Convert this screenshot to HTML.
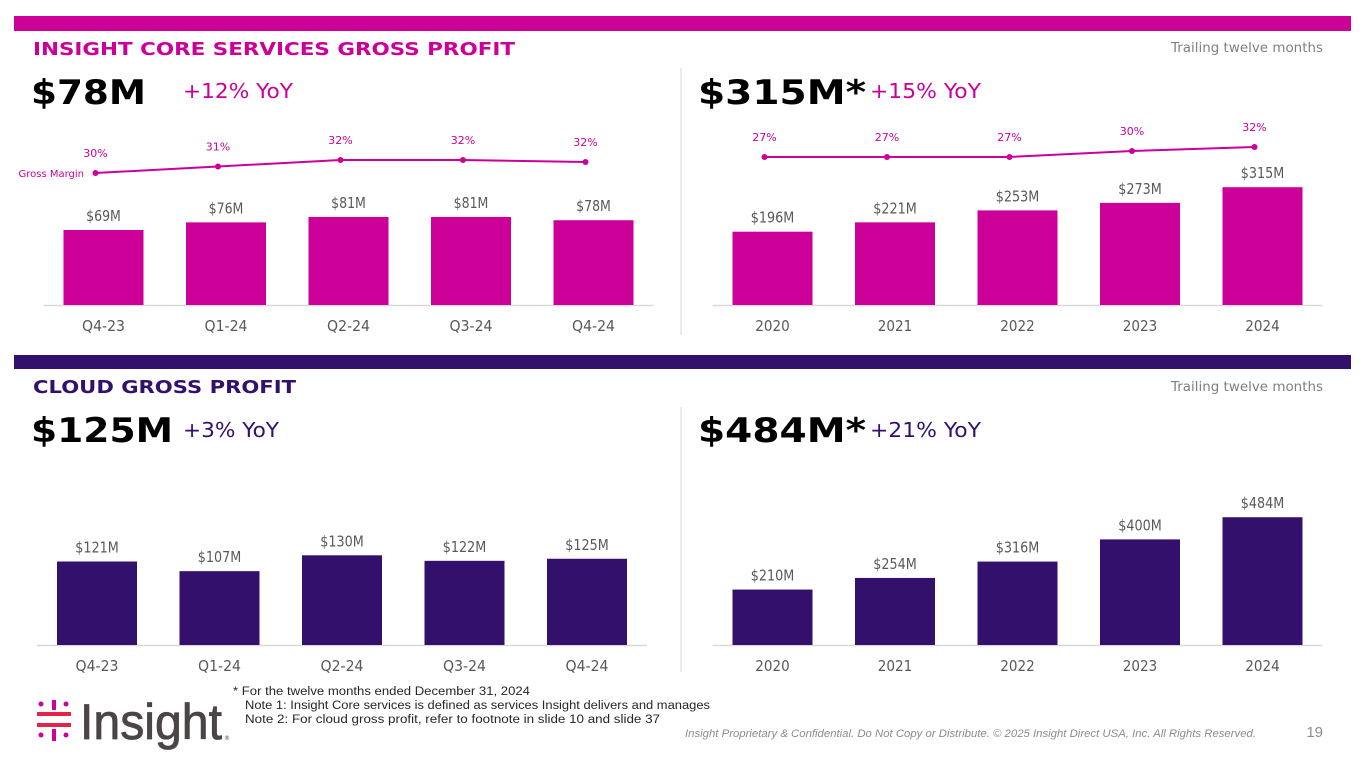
<!DOCTYPE html>
<html><head><meta charset="utf-8"><style>
html,body{margin:0;padding:0;background:#fff;}
svg{display:block;font-family:"DejaVu Sans","Liberation Sans",sans-serif;}
</style></head><body>
<svg id="s" width="1365" height="768" viewBox="0 0 1365 768" xmlns="http://www.w3.org/2000/svg">
<rect x="14" y="16" width="1337" height="15" fill="#cc0099"/>
<rect x="14" y="355" width="1337" height="14" fill="#33106b"/>
<line x1="681" y1="68" x2="681" y2="335" stroke="#d9d9d9"/>
<line x1="681" y1="407" x2="681" y2="672" stroke="#d9d9d9"/>
<text x="33" y="55" font-size="18" font-weight="bold" fill="#cc0099" textLength="482" lengthAdjust="spacingAndGlyphs">INSIGHT CORE SERVICES GROSS PROFIT</text>
<text x="1323" y="52" font-size="13" fill="#7f7f7f" text-anchor="end" textLength="152" lengthAdjust="spacingAndGlyphs">Trailing twelve months</text>
<text x="31" y="104" font-size="34" font-weight="bold" fill="#000" textLength="115" lengthAdjust="spacingAndGlyphs">$78M</text>
<text x="183" y="98" font-size="20" fill="#cc0099" textLength="110" lengthAdjust="spacingAndGlyphs">+12% YoY</text>
<text x="698" y="104" font-size="34" font-weight="bold" fill="#000" textLength="168" lengthAdjust="spacingAndGlyphs">$315M*</text>
<text x="870" y="98" font-size="20" fill="#cc0099" textLength="111" lengthAdjust="spacingAndGlyphs">+15% YoY</text>
<text x="33" y="393" font-size="18" font-weight="bold" fill="#33106b" textLength="263" lengthAdjust="spacingAndGlyphs">CLOUD GROSS PROFIT</text>
<text x="1323" y="391" font-size="13" fill="#7f7f7f" text-anchor="end" textLength="152" lengthAdjust="spacingAndGlyphs">Trailing twelve months</text>
<text x="31" y="442" font-size="34" font-weight="bold" fill="#000" textLength="142" lengthAdjust="spacingAndGlyphs">$125M</text>
<text x="183" y="437" font-size="20" fill="#33106b" textLength="96" lengthAdjust="spacingAndGlyphs">+3% YoY</text>
<text x="698" y="442" font-size="34" font-weight="bold" fill="#000" textLength="168" lengthAdjust="spacingAndGlyphs">$484M*</text>
<text x="870" y="437" font-size="20" fill="#33106b" textLength="111" lengthAdjust="spacingAndGlyphs">+21% YoY</text>
<g>
<rect x="37" y="712" width="34" height="4" fill="#e2244a"/>
<rect x="37" y="723" width="34" height="4" fill="#e2244a"/>
<rect x="52" y="700" width="4" height="10" fill="#cc0099"/>
<rect x="52" y="729" width="4" height="12" fill="#cc0099"/>
<circle cx="41" cy="704" r="2.5" fill="#cc0099"/><circle cx="41" cy="735" r="2.5" fill="#cc0099"/>
<circle cx="66" cy="704" r="2.5" fill="#cc0099"/><circle cx="66" cy="735" r="2.5" fill="#cc0099"/>
<text x="80" y="739" font-family="Liberation Sans, sans-serif" font-size="50" fill="#4b4546" stroke="#4b4546" stroke-width="0.8" textLength="142" lengthAdjust="spacingAndGlyphs">Insight</text>
<text x="224" y="740" font-size="6" fill="#4b4546">®</text>
</g>
<g font-family="Liberation Sans, sans-serif" font-size="11.5" fill="#262626">
<text x="233" y="695" textLength="297" lengthAdjust="spacingAndGlyphs">* For the twelve months ended December 31, 2024</text>
<text x="245" y="709" textLength="465" lengthAdjust="spacingAndGlyphs">Note 1: Insight Core services is defined as services Insight delivers and manages</text>
<text x="245" y="723" textLength="415" lengthAdjust="spacingAndGlyphs">Note 2: For cloud gross profit, refer to footnote in slide 10 and slide 37</text>
</g>
<text x="1256" y="737" font-family="Liberation Sans, sans-serif" font-style="italic" font-size="11" fill="#8c8c8c" text-anchor="end" textLength="571" lengthAdjust="spacingAndGlyphs">Insight Proprietary &amp; Confidential. Do Not Copy or Distribute. © 2025 Insight Direct USA, Inc. All Rights Reserved.</text>
<text x="1323" y="737" font-family="Liberation Sans, sans-serif" font-size="15" fill="#8c8c8c" text-anchor="end">19</text>
</svg>
<script>
const coreQCats=["Q4-23","Q1-24","Q2-24","Q3-24","Q4-24"];
const coreQVals=[69,76,81,81,78];
const coreQMargin=[30,31,32,32,31.7];
const coreYCats=["2020","2021","2022","2023","2024"];
const coreYVals=[196,221,253,273,315];
const coreYMargin=[27,27,27,30,32];
const cloudQCats=["Q4-23","Q1-24","Q2-24","Q3-24","Q4-24"];
const cloudQVals=[121,107,130,122,125];
const cloudYCats=["2020","2021","2022","2023","2024"];
const cloudYVals=[210,254,316,400,484];

const NS="http://www.w3.org/2000/svg";
const svg=document.getElementById('s');
function mk(tag,attrs,txt){const e=document.createElementNS(NS,tag);for(const k in attrs)e.setAttribute(k,attrs[k]);if(txt!==undefined)e.textContent=txt;svg.appendChild(e);return e;}

function chart(prefix,cats,vals,x0,base,scale,color,margin,mY0,mBase,mScale){
  const step=122.5,bw=80;
  const xc=i=>x0+i*step;
  const yv=v=>base-v*scale;
  mk('line',{x1:x0-60,x2:x0+4*step+60,y1:base+0.5,y2:base+0.5,stroke:'#d9d9d9','stroke-width':1.5});
  cats.forEach((c,i)=>{
    const r=mk('rect',{x:xc(i)-bw/2,y:yv(vals[i]),width:bw,height:base-yv(vals[i]),fill:color});
    
    
    const lbl='$'+vals[i]+'M';
    const t=mk('text',{x:xc(i),y:yv(vals[i])-9,'font-size':15,fill:'#595959','text-anchor':'middle',textLength:lbl.length*8.7,lengthAdjust:'spacingAndGlyphs'},lbl);
    
    
    const a=mk('text',{x:xc(i),y:base+26,'font-size':15,fill:'#595959','text-anchor':'middle',textLength:c.length*8.6,lengthAdjust:'spacingAndGlyphs'},c);
    
    
  });
  if(margin){
    const my=v=>mBase-(v-mY0)*mScale;
    let d='';
    margin.forEach((m,i)=>{d+=(i?'L':'M')+(xc(i)-8)+','+my(m);});
    const p=mk('path',{d:d,fill:'none',stroke:'#cc0099','stroke-width':2});
    
    
    margin.forEach((m,i)=>{
      const c=mk('circle',{cx:xc(i)-8,cy:my(m),r:3,fill:'#cc0099'});
      
      
      const t=mk('text',{x:xc(i)-8,y:my(m)-16,'font-size':11,fill:'#cc0099','text-anchor':'middle'},Math.round(m)+'%');
      
      
    });
  }
}
chart('core-quarterly',coreQCats,coreQVals,103.5,305,1.087,'#cc0099',coreQMargin,30,173,6.5);
chart('core-annual',coreYCats,coreYVals,772.5,305,0.374,'#cc0099',coreYMargin,27,157,2);
chart('cloud-quarterly',cloudQCats,cloudQVals,97,645,0.69,'#33106b',null);
chart('cloud-annual',cloudYCats,cloudYVals,772.5,645,0.264,'#33106b',null);
const gm=mk('text',{x:84,y:177,'font-size':10,fill:'#cc0099','text-anchor':'end'},'Gross Margin');


</script>
</body></html>
